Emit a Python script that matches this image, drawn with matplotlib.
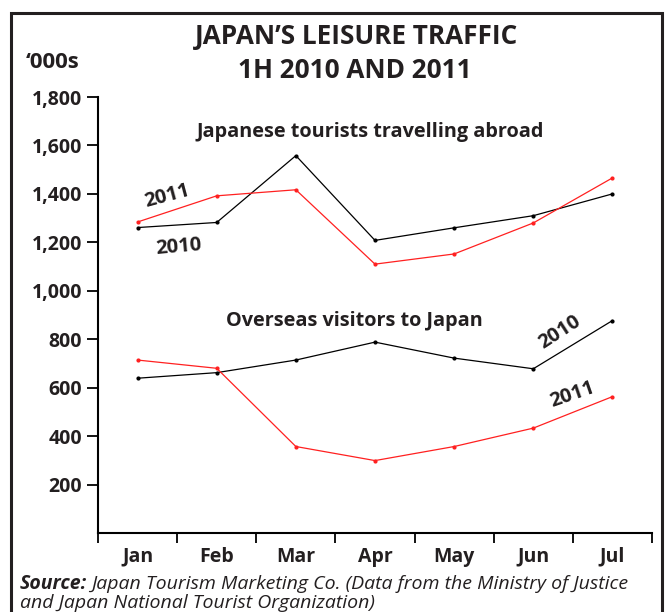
import matplotlib
matplotlib.use("Agg")
import matplotlib.pyplot as plt
from matplotlib.patches import Rectangle
import numpy as np

months = ["Jan", "Feb", "Mar", "Apr", "May", "Jun", "Jul"]
abroad_2010 = [1261, 1282, 1558, 1208, 1260, 1310, 1400]
abroad_2011 = [1284, 1392, 1417, 1110, 1152, 1280, 1466]
visitors_2010 = [639, 662, 714, 788, 722, 678, 877]
visitors_2011 = [714, 680, 357, 299, 357, 433, 563]
yticks = [200, 400, 600, 800, 1000, 1200, 1400, 1600, 1800]

plt.rcParams['font.family'] = ['Open Sans', 'DejaVu Sans']
TXT = '#231f20'

fig = plt.figure(figsize=(6.65, 6.12), dpi=100)
ax = fig.add_axes([98/665, 1 - 533/612, (652-98)/665, (533-97)/612])

x = np.arange(len(months))
ax.plot(x, abroad_2010, color='black', lw=0.9, marker='o', ms=2)
ax.plot(x, abroad_2011, color='#ff2020', lw=0.9, marker='o', ms=2)
ax.plot(x, visitors_2010, color='black', lw=0.9, marker='o', ms=2)
ax.plot(x, visitors_2011, color='#ff2020', lw=0.9, marker='o', ms=2)

ax.set_xlim(-0.5, len(months) - 0.5)
ax.set_ylim(0, 1800)
ax.set_xticks(np.arange(-0.5, len(months)), minor=False)
ax.set_xticklabels([])
ax.set_xticks(x, minor=True)
ax.set_xticklabels(months, minor=True, fontweight='bold', fontsize=14, color=TXT)
ax.tick_params(axis='x', which='major', length=7, width=1.3, direction='out')
ax.tick_params(axis='x', which='minor', length=0, pad=10)
ax.set_yticks(yticks)
ax.set_yticklabels([f"{v:,}" for v in yticks], fontweight='bold', fontsize=14, color=TXT)
ax.tick_params(axis='y', length=8, width=1.3, direction='out', pad=3.5)

for s in ['top', 'right']:
    ax.spines[s].set_visible(False)
for s in ['left', 'bottom']:
    ax.spines[s].set_linewidth(1.5)

ax.text(0.492, 0.92, "Japanese tourists travelling abroad", transform=ax.transAxes,
        ha='center', va='center', fontweight='bold', fontsize=14.3, color=TXT)
ax.text(0.462, 0.487, "Overseas visitors to Japan", transform=ax.transAxes,
        ha='center', va='center', fontweight='bold', fontsize=14.3, color=TXT)

ax.text(0.38, 1390, "2011", ha='center', va='center', fontweight='bold', fontsize=14.5,
        rotation=15, color=TXT)
ax.text(0.52, 1180, "2010", ha='center', va='center', fontweight='bold', fontsize=14.5,
        rotation=5, color=TXT)
ax.text(5.34, 830, "2010", ha='center', va='center', fontweight='bold', fontsize=14.5,
        rotation=33, color=TXT)
ax.text(5.5, 570, "2011", ha='center', va='center', fontweight='bold', fontsize=14.5,
        rotation=19, color=TXT)

fig.text(357/665, 1 - 36/612, "JAPAN\u2019S LEISURE TRAFFIC", ha='center', va='center',
         fontweight='bold', fontsize=18.8, color=TXT)
fig.text(355/665, 1 - 71/612, "1H 2010 AND 2011", ha='center', va='center',
         fontweight='bold', fontsize=18.8, color=TXT)
fig.text(26/665, 1 - 62/612, "\u2018000s", ha='left', va='center',
         fontweight='bold', fontsize=16, color=TXT)

src = fig.text(20/665, 1 - 584/612, "Source:", ha='left', va='center', fontweight='bold',
               style='italic', fontsize=14, color=TXT)
fig.canvas.draw()
bb = src.get_window_extent(renderer=fig.canvas.get_renderer())
fig.text(bb.x1/665 + 4/665, 1 - 584/612,
         "Japan Tourism Marketing Co. (Data from the Ministry of Justice",
         ha='left', va='center', style='italic', fontsize=14, color=TXT)
fig.text(20/665, 1 - 603/612, "and Japan National Tourist Organization)",
         ha='left', va='center', style='italic', fontsize=14, color=TXT)

fig.patches.append(Rectangle((11/665, -0.05), (662-11)/665, 1 - 13/612 + 0.05,
                             transform=fig.transFigure, fill=False, lw=2.2, ec=TXT))

fig.savefig("out.png", dpi=100)
